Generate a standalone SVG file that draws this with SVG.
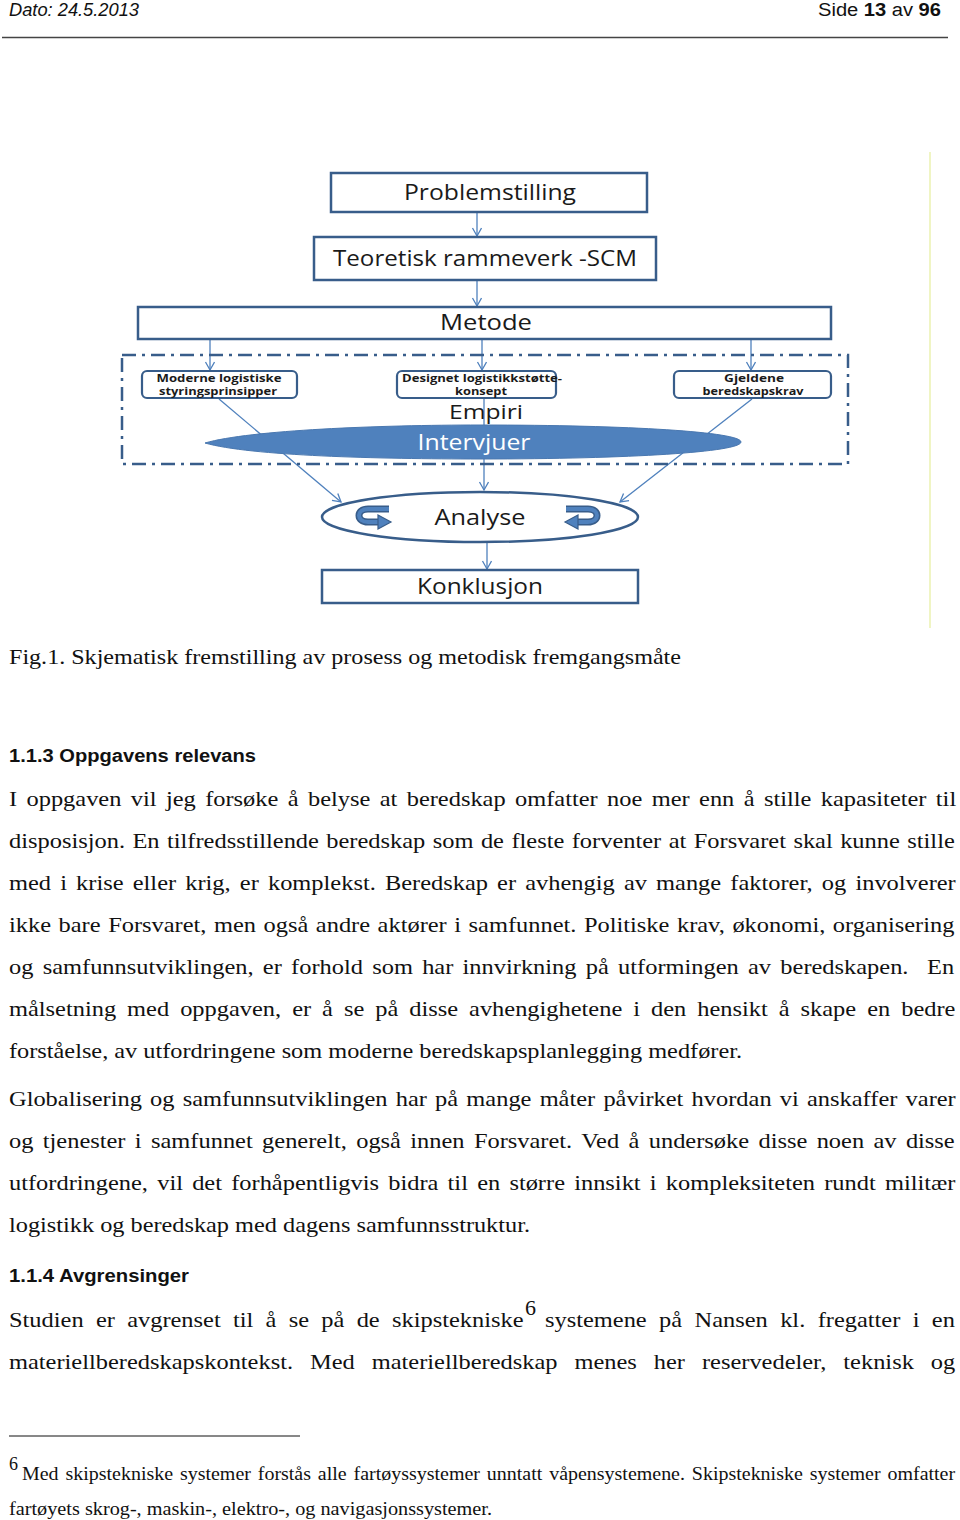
<svg xmlns="http://www.w3.org/2000/svg" width="960" height="1520" viewBox="0 0 960 1520">
<defs>
<marker id="arr" markerWidth="12" markerHeight="12" refX="9" refY="5" orient="auto" markerUnits="userSpaceOnUse">
<path d="M1,0.5 L9,5 L1,9.5" fill="none" stroke="#4f81bd" stroke-width="1.3"/>
</marker>
</defs>
<style>
.box{fill:#fff;stroke:#385d8a;stroke-width:2.5}
.sbox{fill:#fff;stroke:#385d8a;stroke-width:2.2}
.con{fill:none;stroke:#4f81bd;stroke-width:1.3;marker-end:url(#arr)}
.lbl{font-family:"Open Sans","Liberation Sans",sans-serif;font-size:21px;fill:#1a1a1a;text-anchor:middle}
.sm{font-family:"Open Sans","Liberation Sans",sans-serif;font-size:10.5px;font-weight:bold;fill:#1a1a1a;text-anchor:middle}
.body{font-family:"Liberation Serif","Times New Roman",serif;font-size:22px;fill:#111}
.hd{font-family:"Liberation Sans",Arial,sans-serif;font-size:18px;font-weight:bold;fill:#111}
.hdr{font-family:"Liberation Sans",Arial,sans-serif;font-size:18px;fill:#111}
.fn{font-family:"Liberation Serif","Times New Roman",serif;font-size:18px;fill:#111}
</style>
<rect width="960" height="1520" fill="#fff"/>

<!-- page header -->
<text class="hdr" x="9" y="16" font-style="italic" textLength="130" lengthAdjust="spacingAndGlyphs">Dato: 24.5.2013</text>
<text class="hdr" x="818" y="16" textLength="123" lengthAdjust="spacingAndGlyphs">Side <tspan font-weight="bold">13</tspan> av <tspan font-weight="bold">96</tspan></text>
<line x1="2" y1="37.5" x2="948" y2="37.5" stroke="#444" stroke-width="1.3"/>

<!-- faint frame line -->
<line x1="930" y1="152" x2="930" y2="628" stroke="#f0f5c4" stroke-width="2"/>

<!-- connectors -->
<g id="connectors">
<line class="con" x1="477" y1="213" x2="477" y2="236"/>
<line class="con" x1="477" y1="281" x2="477" y2="306"/>
<line class="con" x1="210" y1="340" x2="210" y2="370"/>
<line class="con" x1="482" y1="340" x2="482" y2="370"/>
<line class="con" x1="751" y1="340" x2="751" y2="370"/>
<line class="con" x1="484" y1="399" x2="484" y2="490"/>
<line class="con" x1="219" y1="399" x2="341" y2="502"/>
<line class="con" x1="752" y1="399" x2="620" y2="502"/>
<line class="con" x1="487" y1="543" x2="487" y2="569"/>
</g>

<g id="problemstilling">
<rect class="box" x="331" y="173" width="316" height="39"/>
<text class="lbl" x="490" y="200" textLength="172" lengthAdjust="spacingAndGlyphs">Problemstilling</text>
</g>

<g id="teoretisk">
<rect class="box" x="314" y="237" width="342" height="43"/>
<text class="lbl" x="485" y="266" textLength="304" lengthAdjust="spacingAndGlyphs">Teoretisk rammeverk -SCM</text>
</g>

<g id="metode">
<rect class="box" x="138" y="307" width="693" height="32"/>
<text class="lbl" x="486" y="330" textLength="92" lengthAdjust="spacingAndGlyphs">Metode</text>
</g>

<g id="empiri">
<rect x="122" y="355" width="726" height="109" fill="none" stroke="#385d8a" stroke-width="2.5" stroke-dasharray="14 6 3 6"/>
<text class="lbl" x="486" y="419" font-size="20" style="font-size:20px" textLength="74" lengthAdjust="spacingAndGlyphs">Empiri</text>
</g>

<g id="moderne">
<rect class="sbox" x="142" y="371" width="155" height="27" rx="5"/>
<text class="sm" x="219" y="382" textLength="125" lengthAdjust="spacingAndGlyphs">Moderne logistiske</text>
<text class="sm" x="218" y="394.5" textLength="118" lengthAdjust="spacingAndGlyphs">styringsprinsipper</text>
</g>

<g id="designet">
<rect class="sbox" x="397" y="371" width="159" height="27" rx="5"/>
<text class="sm" x="482" y="382" textLength="160" lengthAdjust="spacingAndGlyphs">Designet logistikkstøtte-</text>
<text class="sm" x="481" y="394.5" textLength="52" lengthAdjust="spacingAndGlyphs">konsept</text>
</g>

<g id="gjeldene">
<rect class="sbox" x="674" y="371" width="157" height="27" rx="5"/>
<text class="sm" x="754" y="382" textLength="60" lengthAdjust="spacingAndGlyphs">Gjeldene</text>
<text class="sm" x="753" y="394.5" textLength="101" lengthAdjust="spacingAndGlyphs">beredskapskrav</text>
</g>

<g id="intervjuer">
<path d="M205,443 C250,430 380,425 480,425 C630,425 741,432 741,442 C741,452 630,459 480,459 C380,459 250,456 205,443 Z" fill="#4f81bd" stroke="#4a78b0" stroke-width="1"/>
<text class="lbl" x="474" y="450" style="fill:#fff" textLength="113" lengthAdjust="spacingAndGlyphs">Intervjuer</text>
</g>

<g id="analyse">
<ellipse cx="480" cy="517" rx="158" ry="25" fill="#fff" stroke="#385d8a" stroke-width="2.5"/>
<path d="M389,509 L368,509 C356,509 356,522 368,522 L380,522" fill="none" stroke="#385d8a" stroke-width="7"/>
<path d="M389,509 L368,509 C356,509 356,522 368,522 L380,522" fill="none" stroke="#4f81bd" stroke-width="4"/>
<path d="M378,515 L391,522 L378,529 Z" fill="#4f81bd" stroke="#385d8a" stroke-width="1.2"/>
<path d="M566,509 L588,509 C600,509 600,522 588,522 L576,522" fill="none" stroke="#385d8a" stroke-width="7"/>
<path d="M566,509 L588,509 C600,509 600,522 588,522 L576,522" fill="none" stroke="#4f81bd" stroke-width="4"/>
<path d="M578,515 L565,522 L578,529 Z" fill="#4f81bd" stroke="#385d8a" stroke-width="1.2"/>
<text class="lbl" x="480" y="525" textLength="91" lengthAdjust="spacingAndGlyphs">Analyse</text>
</g>

<g id="konklusjon">
<rect class="box" x="322" y="570" width="316" height="33"/>
<text class="lbl" x="480" y="594" textLength="126" lengthAdjust="spacingAndGlyphs">Konklusjon</text>
</g>

<!-- caption and body text -->
<text class="body" x="9" y="664" font-size="21" textLength="672" lengthAdjust="spacingAndGlyphs">Fig.1. Skjematisk fremstilling av prosess og metodisk fremgangsmåte</text>

<text class="hd" x="9" y="762" textLength="247" lengthAdjust="spacingAndGlyphs">1.1.3 Oppgavens relevans</text>

<g transform="scale(1.11,1)">
<text class="body" x="8.11" y="806" word-spacing="2.95">I oppgaven vil jeg forsøke å belyse at beredskap omfatter noe mer enn å stille kapasiteter til</text>
<text class="body" x="8.11" y="848" word-spacing="1.22">disposisjon. En tilfredsstillende beredskap som de fleste forventer at Forsvaret skal kunne stille</text>
<text class="body" x="8.11" y="890" word-spacing="2.75">med i krise eller krig, er komplekst. Beredskap er avhengig av mange faktorer, og involverer</text>
<text class="body" x="8.11" y="932" word-spacing="1.3">ikke bare Forsvaret, men også andre aktører i samfunnet. Politiske krav, økonomi, organisering</text>
<text class="body" x="8.11" y="974" word-spacing="2.85">og samfunnsutviklingen, er forhold som har innvirkning på utformingen av beredskapen.&#160; En</text>
<text class="body" x="8.11" y="1016" word-spacing="4.4">målsetning med oppgaven, er å se på disse avhengighetene i den hensikt å skape en bedre</text>
<text class="body" x="8.11" y="1106" word-spacing="1.9">Globalisering og samfunnsutviklingen har på mange måter påvirket hvordan vi anskaffer varer</text>
<text class="body" x="8.11" y="1148" word-spacing="2.95">og tjenester i samfunnet generelt, også innen Forsvaret. Ved å undersøke disse noen av disse</text>
<text class="body" x="8.11" y="1190" word-spacing="2.8">utfordringene, vil det forhåpentligvis bidra til en større innsikt i kompleksiteten rundt militær</text>
<text class="body" x="8.11" y="1327" word-spacing="5.57">Studien er avgrenset til å se på de skipstekniske</text>
<text class="body" x="491" y="1327" word-spacing="5.67">systemene på Nansen kl. fregatter i en</text>
<text class="body" x="8.11" y="1369" word-spacing="9.8">materiellberedskapskontekst. Med materiellberedskap menes her reservedeler, teknisk og</text>
<text class="fn" x="19.82" y="1480" word-spacing="1.7">Med skipstekniske systemer forstås alle fartøyssystemer unntatt våpensystemene. Skipstekniske systemer omfatter</text>
</g>
<text class="body" x="9" y="1058" textLength="733" lengthAdjust="spacingAndGlyphs">forståelse, av utfordringene som moderne beredskapsplanlegging medfører.</text>
<text class="body" x="9" y="1232" textLength="521" lengthAdjust="spacingAndGlyphs">logistikk og beredskap med dagens samfunnsstruktur.</text>

<text class="hd" x="9" y="1282" textLength="180" lengthAdjust="spacingAndGlyphs">1.1.4 Avgrensinger</text>
<text class="body" x="525" y="1315" font-size="14">6</text>

<line x1="9" y1="1436" x2="300" y2="1436" stroke="#111" stroke-width="1"/>
<text class="fn" x="9" y="1470" font-size="11">6</text>
<text class="fn" x="9" y="1515" textLength="483" lengthAdjust="spacingAndGlyphs">fartøyets skrog-, maskin-, elektro-, og navigasjonssystemer.</text>
</svg>
